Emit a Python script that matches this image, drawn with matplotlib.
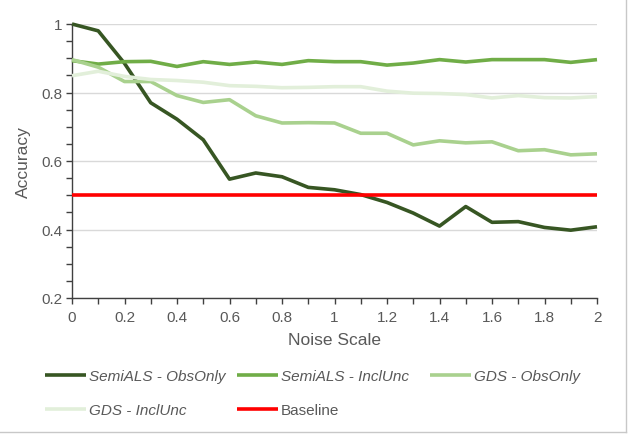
import matplotlib
matplotlib.use("Agg")
import matplotlib.pyplot as plt
from matplotlib.lines import Line2D
from matplotlib.ticker import FuncFormatter, MultipleLocator

plt.rcParams["font.family"] = ["Liberation Sans", "DejaVu Sans"]

TEXT = "#595959"
GRID = "#d9d9d9"
AXIS = "#404040"

noise_scale = [0.0, 0.1, 0.2, 0.3, 0.4, 0.5, 0.6, 0.7, 0.8, 0.9, 1.0,
               1.1, 1.2, 1.3, 1.4, 1.5, 1.6, 1.7, 1.8, 1.9, 2.0]
semials_obsonly = [1.000, 0.980, 0.885, 0.770, 0.722, 0.662, 0.547, 0.565, 0.554, 0.523, 0.516,
                   0.502, 0.479, 0.448, 0.410, 0.467, 0.421, 0.423, 0.406, 0.398, 0.408]
semials_inclunc = [0.893, 0.883, 0.890, 0.891, 0.876, 0.890, 0.882, 0.889, 0.882, 0.893, 0.890,
                   0.890, 0.880, 0.886, 0.896, 0.889, 0.896, 0.896, 0.896, 0.888, 0.896]
gds_obsonly = [0.896, 0.874, 0.832, 0.832, 0.791, 0.771, 0.779, 0.732, 0.711, 0.712, 0.711,
               0.681, 0.681, 0.647, 0.659, 0.653, 0.656, 0.630, 0.633, 0.618, 0.621]
gds_inclunc = [0.849, 0.862, 0.847, 0.838, 0.835, 0.830, 0.820, 0.818, 0.814, 0.815, 0.817,
               0.817, 0.804, 0.798, 0.797, 0.794, 0.784, 0.791, 0.785, 0.784, 0.788]
baseline = [0.5] * len(noise_scale)

series = [
    ("SemiALS - ObsOnly", semials_obsonly, "#375623", "italic"),
    ("SemiALS - InclUnc", semials_inclunc, "#70ad47", "italic"),
    ("GDS - ObsOnly", gds_obsonly, "#a9d18e", "italic"),
    ("GDS - InclUnc", gds_inclunc, "#e2efda", "italic"),
    ("Baseline", baseline, "#ff0000", "normal"),
]

fig = plt.figure(figsize=(6.3, 4.35), dpi=100, facecolor="white")
ax = fig.add_axes([72 / 630, 1 - 299 / 435, 525 / 630, 274 / 435])

lines = []
for label, values, color, _ in series:
    (ln,) = ax.plot(noise_scale, values, color=color, linewidth=2.6,
                    solid_capstyle="butt", label=label, clip_on=False, zorder=3)
    lines.append(ln)

ax.set_xlim(0, 2)
ax.set_ylim(0.2, 1)
ax.xaxis.set_major_locator(MultipleLocator(0.2))
ax.xaxis.set_minor_locator(MultipleLocator(0.1))
ax.yaxis.set_major_locator(MultipleLocator(0.2))
ax.yaxis.set_minor_locator(MultipleLocator(0.05))
fmt = FuncFormatter(lambda v, _: f"{v:g}")
ax.xaxis.set_major_formatter(fmt)
ax.yaxis.set_major_formatter(fmt)

ax.grid(axis="y", which="major", color=GRID, linewidth=1.0, zorder=0)
ax.set_axisbelow(True)
for side in ("top", "right"):
    ax.spines[side].set_visible(False)
for side in ("left", "bottom"):
    ax.spines[side].set_color(AXIS)
    ax.spines[side].set_linewidth(1.0)

ax.tick_params(which="both", direction="out", length=4, width=1.0, color=AXIS)
ax.tick_params(axis="both", which="major", labelsize=11, labelcolor=TEXT)
ax.tick_params(axis="y", which="major", pad=3)
ax.tick_params(axis="x", which="major", pad=5)

fig.text(0.5 * (72 + 597) / 630, 1 - 341 / 435, "Noise Scale",
         ha="center", va="center", fontsize=12.5, color=TEXT)
fig.text(23 / 630, 1 - 162 / 435, "Accuracy", rotation=90,
         ha="center", va="center", fontsize=12.5, color=TEXT)

# one legend per column so the columns sit where the reference has them
columns = [([0, 3], 45), ([1, 4], 237), ([2], 430)]
for idx, x_px in columns:
    leg = fig.legend(
        handles=[lines[i] for i in idx],
        labels=[series[i][0] for i in idx],
        loc="upper left",
        bbox_to_anchor=(x_px / 630, 1 - 370 / 435),
        frameon=False,
        fontsize=11,
        handlelength=2.66,
        handletextpad=0.2,
        labelspacing=1.3,
        borderpad=0,
        borderaxespad=0,
    )
    for text, i in zip(leg.get_texts(), idx):
        text.set_color(TEXT)
        text.set_fontstyle(series[i][3])

# chart frame edges visible at right and bottom
fig.add_artist(Line2D([626 / 630, 626 / 630], [1 - 433 / 435, 1.0],
                      transform=fig.transFigure, color="#c8c8c8", linewidth=1.0))
fig.add_artist(Line2D([0, 626 / 630], [1 - 433 / 435, 1 - 433 / 435],
                      transform=fig.transFigure, color="#c8c8c8", linewidth=1.0))

fig.savefig("out.png", dpi=100, facecolor="white")
